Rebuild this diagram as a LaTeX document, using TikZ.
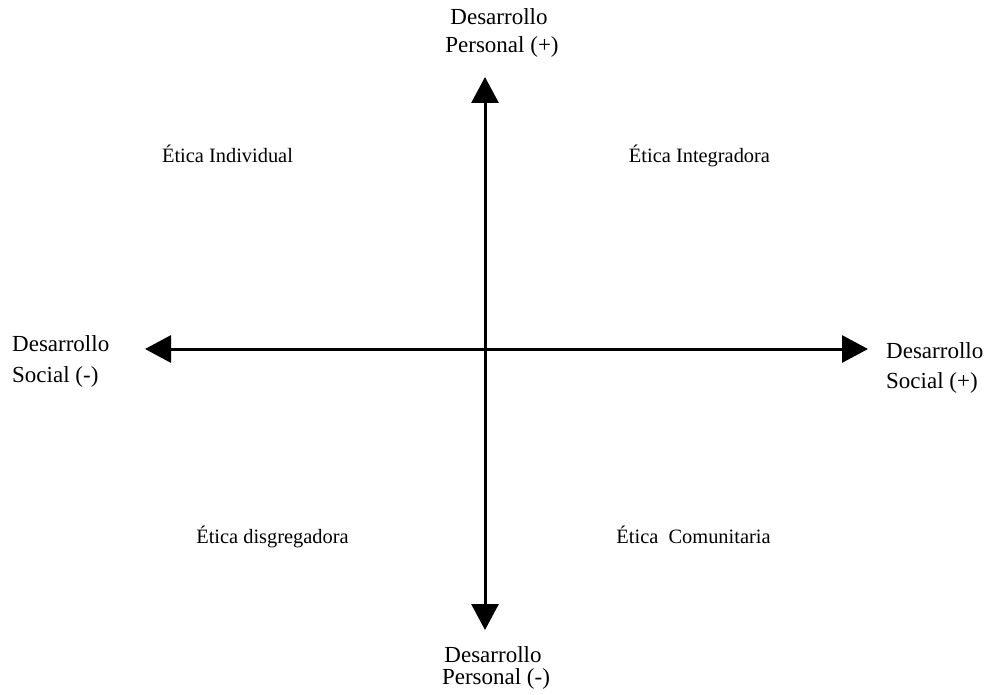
\documentclass[tikz,border=0pt]{standalone}
\usepackage{fontspec}
\setmainfont{Liberation Serif}
\usetikzlibrary{arrows.meta}
\tikzset{
  axislabel/.style={inner sep=0pt, font=\fontsize{23}{27}\selectfont},
  quadlabel/.style={inner sep=0pt, anchor=base, font=\fontsize{20.4}{24}\selectfont},
  axisline/.style={line width=3pt, {Triangle[width=27pt,length=26pt]}-{Triangle[width=27pt,length=26pt]}}
}
\begin{document}
\begin{tikzpicture}[x=1pt,y=-1pt]
\useasboundingbox (0,0) rectangle (986,695);
\coordinate (ptop) at (485,77);
\coordinate (pbot) at (485,630);
\coordinate (sleft) at (145,349);
\coordinate (sright) at (868,349);
\draw[axisline] (pbot) -- (ptop);
\draw[axisline] (sleft) -- (sright);
% axis labels
\node[axislabel, anchor=base] (t1) at (499,25) {Desarrollo};
\node[axislabel, anchor=base] (t2) at (502,53) {Personal (+)};
\node[axislabel, anchor=base] (b1) at (493,662) {Desarrollo};
\node[axislabel, anchor=base] (b2) at (496,684) {Personal (-)};
\node[axislabel, anchor=base west] (l1) at (12,351) {Desarrollo};
\node[axislabel, anchor=base west] (l2) at (12,382) {Social (-)};
\node[axislabel, anchor=base west] (r1) at (886,358) {Desarrollo};
\node[axislabel, anchor=base west] (r2) at (886,388) {Social (+)};
% quadrant labels
\node[quadlabel] (q1) at (227.5,163) {Ética Individual};
\node[quadlabel] (q2) at (699.5,163) {Ética Integradora};
\node[quadlabel] (q3) at (272.5,543) {Ética disgregadora};
\node[quadlabel] (q4) at (693.5,543) {Ética\ \ Comunitaria};
\end{tikzpicture}
\end{document}
